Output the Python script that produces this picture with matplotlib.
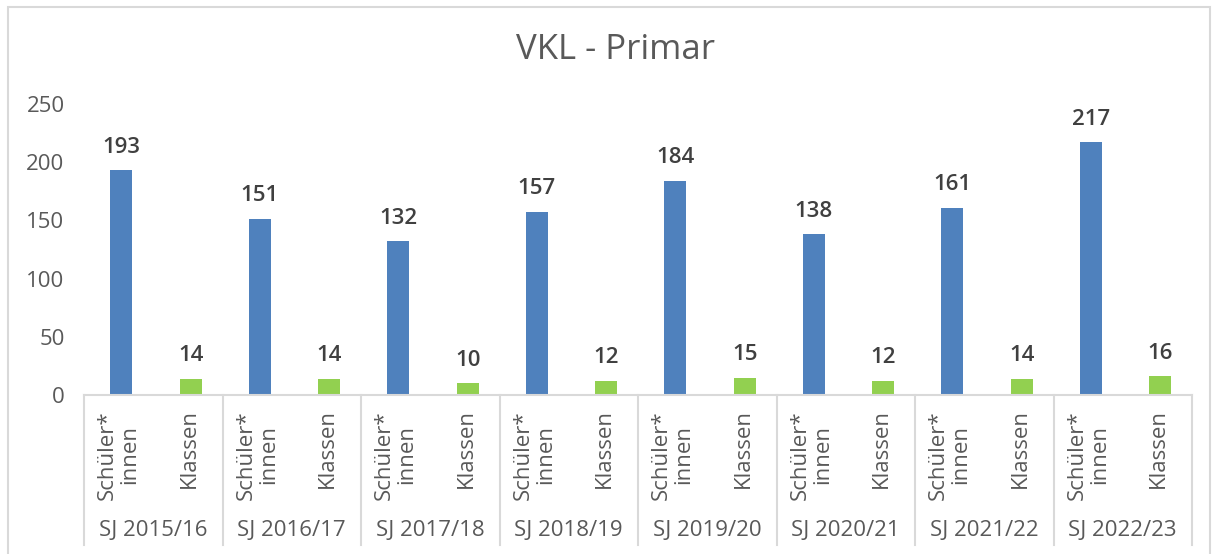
import matplotlib
matplotlib.use("Agg")
import matplotlib.pyplot as plt
import matplotlib.patches as mpatches
from matplotlib.transforms import blended_transform_factory

plt.rcParams['font.family'] = ['Open Sans', 'DejaVu Sans']

years = ["SJ 2015/16", "SJ 2016/17", "SJ 2017/18", "SJ 2018/19",
         "SJ 2019/20", "SJ 2020/21", "SJ 2021/22", "SJ 2022/23"]
sub_labels = ["Schüler*\ninnen", "Klassen"]
schueler = [193, 151, 132, 157, 184, 138, 161, 217]
klassen = [14, 14, 10, 12, 15, 12, 14, 16]
title = "VKL - Primar"
yticks = [0, 50, 100, 150, 200, 250]

W, H = 1217, 554
fig = plt.figure(figsize=(W / 100, H / 100), dpi=100)

# outer border (bottom edge lies outside the image)
fig.patches.append(mpatches.Rectangle((8 / W, -0.05), (1210 - 8) / W, (554 - 7) / H + 0.05,
                                      transform=fig.transFigure, fill=False,
                                      edgecolor="#D9D9D9", linewidth=1.5))

x0, x1 = 84, 1192
y_base, y_top = 395, 104
ax = fig.add_axes([x0 / W, (H - y_base) / H, (x1 - x0) / W, (y_base - y_top) / H])

n = len(years)
blue_x = [2 * i + 0.04 for i in range(n)]
green_x = [2 * i + 1 + 0.04 for i in range(n)]
ax.bar(blue_x, schueler, width=0.32, color="#4F81BD")
ax.bar(green_x, klassen, width=0.32, color="#92D050")

for xv, v in zip(blue_x, schueler):
    ax.text(xv, v + 11, str(v), ha="center", va="bottom", fontsize=16,
            fontweight="semibold", color="#404040")
for xv, v in zip(green_x, klassen):
    ax.text(xv, v + 11, str(v), ha="center", va="bottom", fontsize=16,
            fontweight="semibold", color="#404040")

ax.set_xlim(-0.5, 2 * n - 0.5)
ax.set_ylim(0, 250)
ax.set_yticks(yticks)
ax.tick_params(axis="y", length=0, labelsize=16, labelcolor="#595959", pad=14)
ax.set_xticks([])
for s in ["top", "right", "left"]:
    ax.spines[s].set_visible(False)
ax.spines["bottom"].set_color("#D9D9D9")
ax.spines["bottom"].set_linewidth(1.5)

def ay(py):
    return (y_base - py) / (y_base - y_top)

tr = blended_transform_factory(ax.transData, ax.transAxes)
for i in range(n + 1):
    xb = 2 * i - 0.5
    ax.plot([xb, xb], [0, ay(545)], transform=tr, color="#D9D9D9",
            linewidth=1.5, clip_on=False)
for i in range(n):
    ax.text(2 * i, ay(455), sub_labels[0], transform=tr, rotation=90,
            ha="center", va="center", fontsize=16, color="#595959",
            multialignment="center", linespacing=1.1)
    ax.text(2 * i + 1.02, ay(449), sub_labels[1], transform=tr, rotation=90,
            ha="center", va="center", fontsize=16, color="#595959")
    ax.text(2 * i + 0.5, ay(530), years[i], transform=tr, ha="center",
            va="center", fontsize=16, color="#595959")

fig.text(615 / W, (H - 50) / H, title, ha="center", va="center",
         fontsize=25, color="#595959")

fig.savefig("out.png", dpi=100)
